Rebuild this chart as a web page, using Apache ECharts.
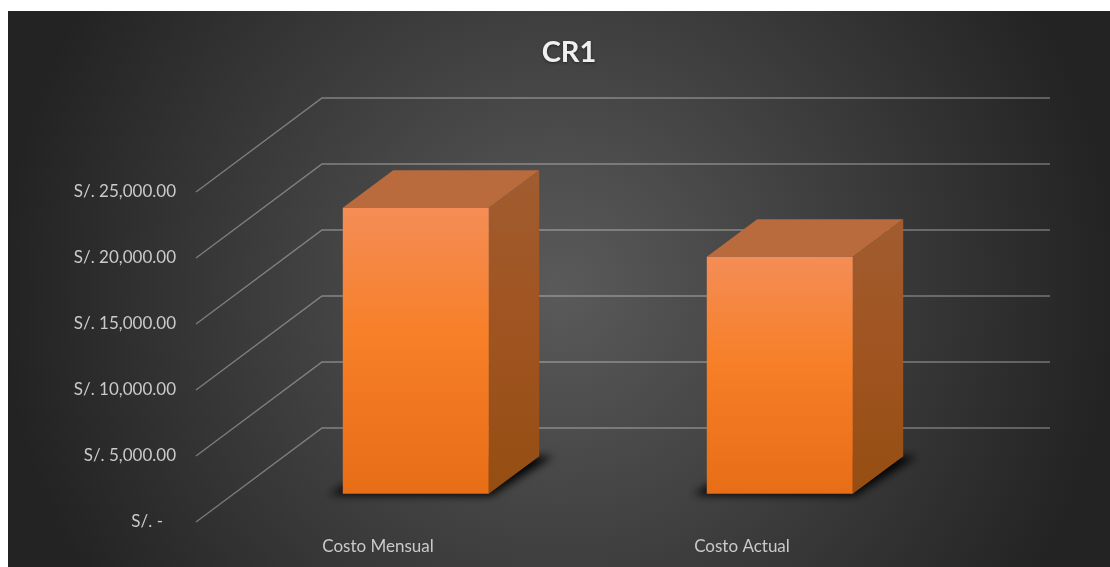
<!DOCTYPE html>
<html>
<head>
<meta charset="utf-8">
<title>CR1</title>
<style>
  html, body { margin: 0; padding: 0; background: #fff; }
  #chart { width: 1110px; height: 567px; }
</style>
<script src="https://cdn.jsdelivr.net/npm/echarts@6/dist/echarts.min.js"></script>
</head>
<body>
<div id="chart"></div>
<script>
const categories = ['Costo Mensual', 'Costo Actual'];
const costValues = [21670, 17950];
const valueTicks = [0, 5000, 10000, 15000, 20000, 25000];
const chartTitle = 'CR1';

// Oblique projection of the 3D box: how far the back wall sits from the front plane.
const DEPTH_X = 126;
const DEPTH_Y = -94;
const BAR_NEAR = 0.3;
const BAR_FAR = 0.7;
const BAR_WIDTH = 146;
// The ground shadow's shape is drawn off-canvas so only its blurred shadow lands on the floor.
const SHADOW_SHIFT = 2000;

const chart = echarts.init(document.getElementById('chart'), null, { renderer: 'canvas' });

function vertical(stops) {
  return new echarts.graphic.LinearGradient(0, 0, 0, 1,
    stops.map(([offset, color]) => ({ offset, color })));
}

// Floor and back-wall rule for one value tick.
function renderGridLine(params, api) {
  const grid = params.coordSys;
  const y = api.coord([0, api.value(0)])[1];
  const x0 = grid.x;
  return {
    type: 'polyline',
    shape: {
      points: [
        [x0, y],
        [x0 + DEPTH_X, y + DEPTH_Y],
        [x0 + grid.width + DEPTH_X, y + DEPTH_Y]
      ]
    },
    style: { fill: null, stroke: 'rgba(255,255,255,0.35)', lineWidth: 1.4 }
  };
}

// One extruded column: ground shadow, side, top, then the front face.
function renderBox(params, api) {
  const base = api.coord([api.value(0), 0]);
  const top = api.coord([api.value(0), api.value(1)]);
  const nx = DEPTH_X * BAR_NEAR, ny = DEPTH_Y * BAR_NEAR;
  const dx = DEPTH_X * (BAR_FAR - BAR_NEAR), dy = DEPTH_Y * (BAR_FAR - BAR_NEAR);
  const left = base[0] + nx - BAR_WIDTH / 2;
  const right = left + BAR_WIDTH;
  const yTop = top[1] + ny;
  const yBase = base[1] + ny;
  const shadowPoints = [
    [left - 14, yBase + 1],
    [right + 2, yBase + 2],
    [right + dx + 14, yBase + dy],
    [left + dx, yBase + dy]
  ].map(([x, y]) => [x - SHADOW_SHIFT, y]);
  return {
    type: 'group',
    children: [
      {
        type: 'polygon',
        shape: { points: shadowPoints },
        style: {
          fill: '#000',
          shadowBlur: 9,
          shadowOffsetX: SHADOW_SHIFT,
          shadowColor: 'rgba(0,0,0,0.95)'
        }
      },
      {
        type: 'polygon',
        shape: {
          points: [
            [right, yTop],
            [right + dx, yTop + dy],
            [right + dx, yBase + dy],
            [right, yBase]
          ]
        },
        style: { fill: vertical([[0, '#a05c30'], [0.5, '#a05420'], [1, '#954e12']]) }
      },
      {
        type: 'polygon',
        shape: {
          points: [
            [left, yTop],
            [left + dx, yTop + dy],
            [right + dx, yTop + dy],
            [right, yTop]
          ]
        },
        style: { fill: '#b96b3e' }
      },
      {
        type: 'rect',
        shape: { x: left, y: yTop, width: BAR_WIDTH, height: yBase - yTop },
        style: {
          fill: vertical([[0, '#f48d56'], [0.45, '#f77f27'], [1, '#e86d17']])
        }
      }
    ]
  };
}

chart.setOption({
  animation: false,
  backgroundColor: '#ffffff',
  graphic: [{
    type: 'rect',
    z: -10,
    silent: true,
    shape: { x: 8, y: 11, width: 1102, height: 556 },
    style: {
      fill: {
        type: 'radial', x: 0.5, y: 0.5, r: 1,
        colorStops: [
          { offset: 0, color: '#5a5a5a' },
          { offset: 1, color: '#232323' }
        ]
      }
    }
  }],
  title: {
    text: chartTitle,
    left: 564,
    top: 33,
    textAlign: 'center',
    textStyle: {
      fontFamily: 'Lato',
      fontSize: 29,
      fontWeight: 'bold',
      color: '#f0f0f0',
      textShadowColor: 'rgba(0,0,0,0.5)',
      textShadowBlur: 3,
      textShadowOffsetY: 1
    }
  },
  grid: { left: 196, right: 186, top: 192, bottom: 45 },
  xAxis: {
    type: 'category',
    data: categories,
    axisLine: { show: false },
    axisTick: { show: false },
    axisLabel: { color: '#cacaca', fontFamily: 'Lato', fontSize: 17, margin: 16 }
  },
  yAxis: {
    type: 'value',
    min: 0,
    max: 25000,
    interval: 5000,
    splitLine: { show: false },
    axisLine: { show: false },
    axisTick: { show: false },
    axisLabel: {
      color: '#cacaca',
      fontFamily: 'Lato',
      fontSize: 17,
      margin: 20,
      padding: [4, 0, 0, 0],
      formatter: v => v === 0
        ? 'S/. -\u00a0\u00a0\u00a0'
        : 'S/. ' + v.toLocaleString('en-US', { minimumFractionDigits: 2 })
    }
  },
  series: [
    {
      type: 'custom',
      name: 'Rejilla',
      z: 1,
      silent: true,
      data: valueTicks.map(v => [v]),
      encode: { y: 0 },
      renderItem: renderGridLine
    },
    {
      type: 'custom',
      name: 'Costo',
      z: 2,
      data: costValues.map((v, i) => [i, v]),
      encode: { x: 0, y: 1 },
      renderItem: renderBox
    }
  ]
});
</script>
</body>
</html>
